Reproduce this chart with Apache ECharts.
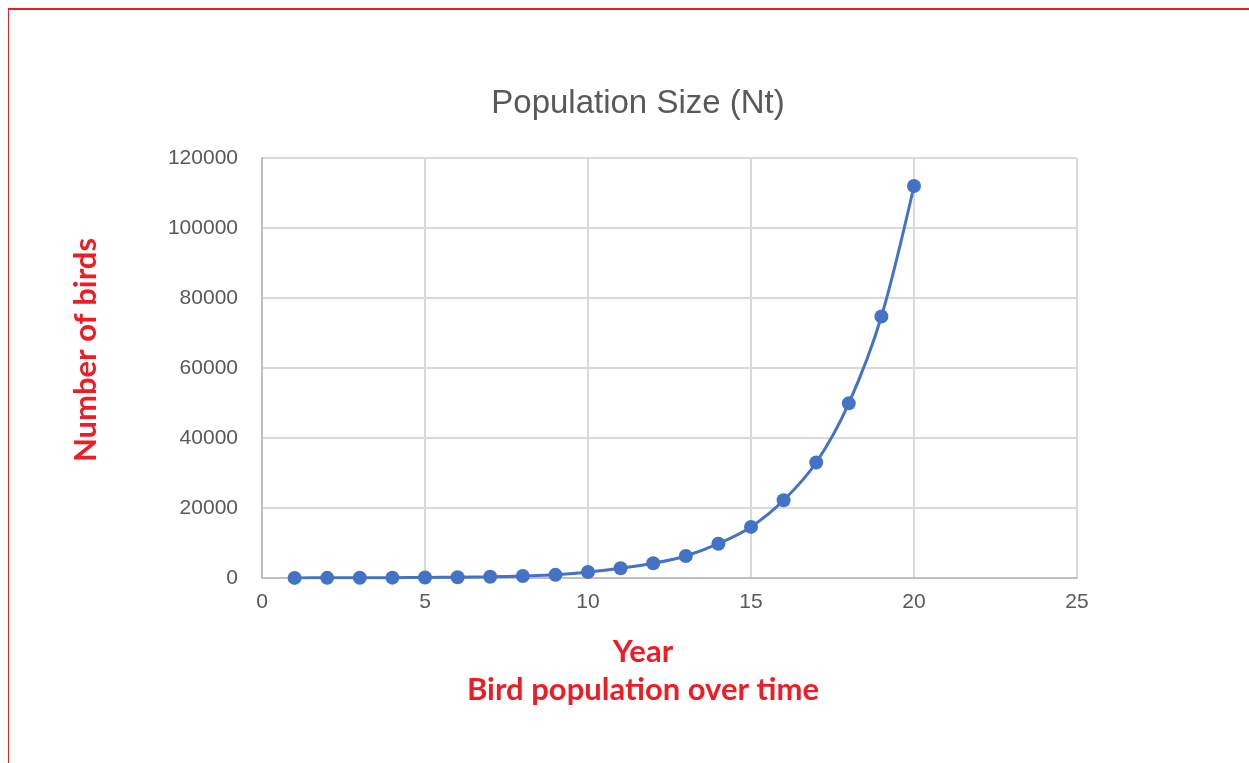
<!DOCTYPE html>
<html>
<head>
<meta charset="utf-8">
<script src="https://cdn.jsdelivr.net/npm/echarts@6/dist/echarts.min.js"></script>
<style>
  html, body { margin: 0; padding: 0; background: #fff; }
  #frame { position: absolute; left: 8px; top: 8px; right: 0; bottom: 0;
           border-top: 2px solid #ee1c25; border-left: 1px solid #ee1c25; }
  #chart { position: absolute; left: 0; top: 0; width: 1249px; height: 763px; }
</style>
</head>
<body>
<div id="frame"></div>
<div id="chart"></div>
<script>
// Years and bird counts (Nt)
const years = [1, 2, 3, 4, 5, 6, 7, 8, 9, 10, 11, 12, 13, 14, 15, 16, 17, 18, 19, 20];
const birds = [30, 45, 70, 100, 150, 230, 340, 560, 900, 1700, 2800, 4200, 6300, 9800, 14600, 22200, 33000, 49900, 74700, 112000];

const chartTitle = 'Population Size (Nt)';
const xName = 'Year';
const yName = 'Number of birds';
const caption = 'Bird population over time';

const red = '#ee1c25';
const labelFont = '"Liberation Sans", Arial, sans-serif';
const headFont = 'Lato, "Liberation Sans", sans-serif';
const redText = { fontFamily: headFont, fontSize: 31, fontWeight: 'bold', fill: red, textAlign: 'center', textVerticalAlign: 'middle' };

const chart = echarts.init(document.getElementById('chart'), null, { renderer: 'canvas' });
chart.setOption({
  animation: false,
  backgroundColor: 'transparent',
  title: {
    text: chartTitle,
    left: 633, top: 82, textAlign: 'center',
    textStyle: { fontFamily: labelFont, fontSize: 33, fontWeight: 'normal', color: '#595959' }
  },
  graphic: [
    { type: 'text', x: 643, y: 652, style: Object.assign({ text: xName }, redText) },
    { type: 'text', x: 643, y: 690, style: Object.assign({ text: caption }, redText) },
    { type: 'text', x: 86, y: 350, rotation: Math.PI / 2, style: Object.assign({ text: yName }, redText) }
  ],
  grid: { left: 262, right: 172, top: 158, bottom: 185 },
  xAxis: {
    type: 'value', min: 0, max: 25, interval: 5,
    axisLine: { show: true, lineStyle: { color: '#bfbfbf', width: 2 } },
    axisTick: { show: false },
    axisLabel: { fontFamily: labelFont, fontSize: 21, color: '#595959', margin: 14 },
    splitLine: { show: true, lineStyle: { color: '#d9d9d9', width: 2 } }
  },
  yAxis: {
    type: 'value', min: 0, max: 120000, interval: 20000,
    axisLine: { show: true, lineStyle: { color: '#bfbfbf', width: 2 } },
    axisTick: { show: false },
    axisLabel: { fontFamily: labelFont, fontSize: 21, color: '#595959', margin: 24, formatter: v => String(v) },
    splitLine: { show: true, lineStyle: { color: '#d9d9d9', width: 2 } }
  },
  series: [{
    type: 'line',
    data: years.map((y, i) => [y, birds[i]]),
    smooth: 0.3,
    symbol: 'circle',
    symbolSize: 14,
    lineStyle: { color: '#4472c4', width: 3 },
    itemStyle: { color: '#4472c4' }
  }]
});
</script>
</body>
</html>
